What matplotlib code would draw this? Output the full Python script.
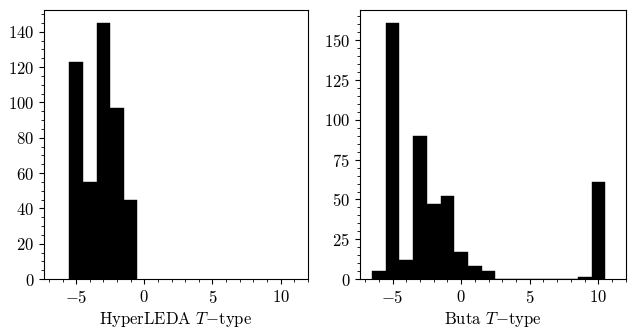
import numpy as np
import matplotlib
matplotlib.use("Agg")
import matplotlib.pyplot as plt
from matplotlib.ticker import MultipleLocator

plt.rcParams['font.family'] = 'serif'
plt.rcParams['font.serif'] = ['cmr10']
plt.rcParams['mathtext.fontset'] = 'cm'
plt.rcParams['axes.formatter.use_mathtext'] = True
plt.rcParams['font.size'] = 12

# Data
hyperleda_types = [-5, -4, -3, -2, -1]
hyperleda_counts = [123, 55, 145, 97, 45]
buta_types = [-6, -5, -4, -3, -2, -1, 0, 1, 2, 3, 4, 5, 6, 7, 8, 9, 10]
buta_counts = [5, 161, 12, 90, 47, 52, 17, 8, 5, 0, 0, 0, 0, 0, 0, 1, 61]
xlabels = [r'HyperLEDA $T$$-$type', r'Buta $T$$-$type']

fig = plt.figure(figsize=(6.36, 3.35), dpi=100)
ax1 = fig.add_axes([0.069, 0.167, 0.415, 0.803])
ax2 = fig.add_axes([0.566, 0.167, 0.418, 0.803])

for ax, t, c, lab, ymaj in [(ax1, hyperleda_types, hyperleda_counts, xlabels[0], 20),
                            (ax2, buta_types, buta_counts, xlabels[1], 25)]:
    t = np.array(t)
    edges = np.append(t - 0.5, t[-1] + 0.5)
    ax.hist(t, bins=edges, weights=c, color='black', edgecolor='black', linewidth=0.3)
    ax.set_xlim(-7.37, 12.0)
    ax.set_xlabel(lab, labelpad=3)
    ax.xaxis.set_major_locator(MultipleLocator(5))
    ax.xaxis.set_minor_locator(MultipleLocator(1))
    ax.yaxis.set_major_locator(MultipleLocator(ymaj))
    ax.yaxis.set_minor_locator(MultipleLocator(5))
    ax.tick_params(which='both', direction='out')

fig.savefig('out.png', dpi=100)
